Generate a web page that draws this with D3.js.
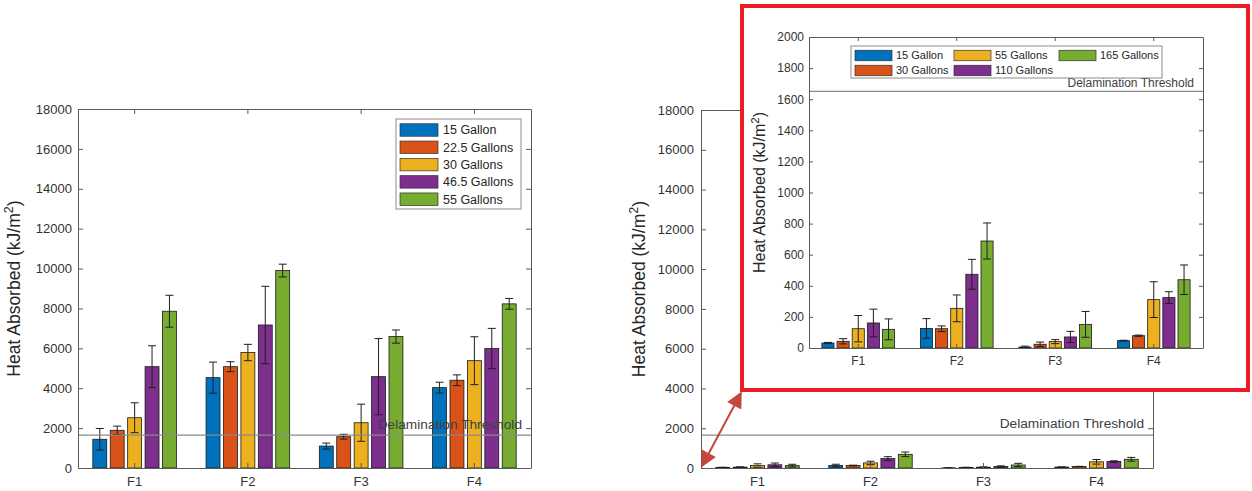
<!DOCTYPE html>
<html>
<head>
<meta charset="utf-8">
<script src="https://cdn.jsdelivr.net/npm/d3@7.9.0/dist/d3.min.js"></script>
<style>
  body { margin: 0; background: #fff; }
  svg { display: block; font-family: "Liberation Sans", Arial, sans-serif; }
</style>
</head>
<body>
<svg id="chart" width="1252" height="491"></svg>
<script>
const categories = ['F1', 'F2', 'F3', 'F4'];
const colors = ['#0072BD', '#D95319', '#EDB120', '#7E2F8E', '#77AC30'];
const threshold = 1650;

// left figure, one row per series, values for F1..F4
const leftSeries = ['15 Gallon', '22.5 Gallons', '30 Gallons', '46.5 Gallons', '55 Gallons'];
const leftMeans = [
  [1440, 4530, 1100, 4030],
  [1890, 5080, 1570, 4400],
  [2520, 5790, 2270, 5380],
  [5080, 7170, 4580, 5990],
  [7860, 9900, 6590, 8230]
];
const leftErrors = [
  [540, 780, 150, 270],
  [210, 250, 120, 270],
  [750, 410, 930, 1200],
  [1050, 1940, 1910, 1010],
  [800, 320, 330, 270]
];

// right figure (also shown zoomed in the inset)
const rightSeries = ['15 Gallon', '30 Gallons', '55 Gallons', '110 Gallons', '165 Gallons'];
const rightMeans = [
  [32, 126, 6, 47],
  [43, 124, 24, 79],
  [124, 255, 41, 311],
  [161, 474, 71, 324],
  [120, 688, 152, 439]
];
const rightErrors = [
  [4, 63, 6, 3],
  [17, 18, 14, 4],
  [85, 86, 13, 115],
  [89, 96, 36, 38],
  [67, 116, 83, 95]
];

const bigTicks = [0, 2000, 4000, 6000, 8000, 10000, 12000, 14000, 16000, 18000];
const insetTicks = [0, 200, 400, 600, 800, 1000, 1200, 1400, 1600, 1800, 2000];

const svg = d3.select('#chart');

function drawPanel(o) {
  const g = svg.append('g');
  const x = d3.scaleBand().domain(categories).range([o.left, o.right]);
  const gw = x.bandwidth() * 0.769;
  const xs = d3.scaleBand().domain(d3.range(5)).range([-gw / 2, gw / 2])
    .paddingInner(0.2).paddingOuter(0.1);
  const y = d3.scaleLinear().domain([0, o.max]).range([o.bottom, o.top]);

  // bars
  o.means.forEach((vals, s) => {
    g.append('g').selectAll('rect').data(vals).join('rect')
      .attr('x', (d, i) => x(categories[i]) + x.bandwidth() / 2 + xs(s))
      .attr('y', d => y(d))
      .attr('width', xs.bandwidth())
      .attr('height', d => y(0) - y(d))
      .attr('fill', colors[s])
      .attr('stroke', '#1a1a1a')
      .attr('stroke-width', 0.8);
  });

  // error bars
  o.means.forEach((vals, s) => {
    vals.forEach((v, i) => {
      const cx = x(categories[i]) + x.bandwidth() / 2 + xs(s) + xs.bandwidth() / 2;
      const e = o.errors[s][i];
      const lo = y(Math.max(0, v - e)), hi = y(v + e);
      const eg = g.append('g').attr('stroke', '#1f1f1f').attr('stroke-width', 1);
      eg.append('line').attr('x1', cx).attr('x2', cx).attr('y1', lo).attr('y2', hi);
      eg.append('line').attr('x1', cx - o.cap).attr('x2', cx + o.cap).attr('y1', lo).attr('y2', lo);
      eg.append('line').attr('x1', cx - o.cap).attr('x2', cx + o.cap).attr('y1', hi).attr('y2', hi);
    });
  });

  // threshold
  g.append('line')
    .attr('x1', o.left).attr('x2', o.right)
    .attr('y1', y(threshold)).attr('y2', y(threshold))
    .attr('stroke', '#8a8a8a').attr('stroke-width', 1.2);
  g.append('text')
    .attr('x', o.right - o.threshInset).attr('y', y(threshold) - o.threshGap)
    .attr('text-anchor', 'end')
    .attr('font-size', o.threshFont)
    .attr('fill', '#404040')
    .text('Delamination Threshold');

  // axes (box on, ticks pointing inward)
  const styleAxis = sel => {
    sel.selectAll('.domain').attr('stroke', '#5a5a5a');
    sel.selectAll('.tick line').attr('stroke', '#5a5a5a');
    sel.selectAll('text').attr('fill', '#333').attr('font-size', o.tickFont)
      .attr('font-family', '"Liberation Sans", Arial, sans-serif');
  };
  g.append('g').attr('transform', `translate(${o.left},0)`)
    .call(d3.axisLeft(y).tickValues(o.ticks).tickFormat(d3.format('d'))
      .tickSizeInner(-o.tick).tickSizeOuter(0).tickPadding(o.ypad))
    .call(styleAxis);
  g.append('g').attr('transform', `translate(${o.right},0)`)
    .call(d3.axisRight(y).tickValues(o.ticks).tickFormat('')
      .tickSizeInner(-o.tick).tickSizeOuter(0))
    .call(styleAxis);
  g.append('g').attr('transform', `translate(0,${o.bottom})`)
    .call(d3.axisBottom(x).tickSizeInner(-o.tick).tickSizeOuter(0).tickPadding(o.xpad))
    .call(styleAxis);
  g.append('g').attr('transform', `translate(0,${o.top})`)
    .call(d3.axisTop(x).tickFormat('').tickSizeInner(-o.tick).tickSizeOuter(0))
    .call(styleAxis);

  // y label
  const lab = g.append('text')
    .attr('transform', `translate(${o.labelX},${(o.top + o.bottom) / 2}) rotate(-90)`)
    .attr('text-anchor', 'middle')
    .attr('font-size', o.labelFont)
    .attr('fill', '#262626');
  lab.append('tspan').text('Heat Absorbed (kJ/m');
  lab.append('tspan').attr('baseline-shift', 'super').attr('font-size', o.labelFont * 0.72).text('2');
  lab.append('tspan').text(')');
  return { x, y };
}

function drawLegend(o) {
  const g = svg.append('g');
  g.append('rect').attr('x', o.x).attr('y', o.y).attr('width', o.w).attr('height', o.h)
    .attr('fill', '#fff').attr('stroke', '#8c8c8c').attr('stroke-width', 1);
  o.names.forEach((name, i) => {
    const c = Math.floor(i / o.rows);
    const r = i % o.rows;
    const px = o.x + o.colX[c];
    const py = o.y + o.firstRow + r * o.rowH;
    g.append('rect').attr('x', px).attr('y', py - o.swH / 2)
      .attr('width', o.swW).attr('height', o.swH)
      .attr('fill', colors[i]).attr('stroke', '#333').attr('stroke-width', 0.7);
    g.append('text').attr('x', px + o.swW + o.gap).attr('y', py)
      .attr('dy', '0.35em').attr('font-size', o.font).attr('fill', '#262626').text(name);
  });
}

// left figure
drawPanel({
  left: 78, right: 531, top: 109, bottom: 468, max: 18000, ticks: bigTicks,
  means: leftMeans, errors: leftErrors, cap: 4,
  tick: 5, ypad: 6, xpad: 9, tickFont: 13, labelX: 20, labelFont: 17.5,
  threshFont: 13.7, threshInset: 9, threshGap: 6
});
drawLegend({
  x: 396, y: 119, w: 125, h: 90, names: leftSeries, rows: 5,
  colX: [4], firstRow: 11, rowH: 17.3, swW: 38, swH: 12.5, gap: 5, font: 12.5
});

// right figure
drawPanel({
  left: 701, right: 1153, top: 110, bottom: 468, max: 18000, ticks: bigTicks,
  means: rightMeans, errors: rightErrors, cap: 4,
  tick: 5, ypad: 7, xpad: 9, tickFont: 13, labelX: 645, labelFont: 17.5,
  threshFont: 13.7, threshInset: 9, threshGap: 7
});

// zoom inset with red frame
svg.append('rect').attr('x', 742).attr('y', 6).attr('width', 506).attr('height', 384)
  .attr('fill', '#fff').attr('stroke', '#ed1c24').attr('stroke-width', 4);
drawPanel({
  left: 809, right: 1203, top: 37, bottom: 348, max: 2000, ticks: insetTicks,
  means: rightMeans, errors: rightErrors, cap: 4,
  tick: 4, ypad: 5, xpad: 8, tickFont: 12, labelX: 765, labelFont: 16,
  threshFont: 12, threshInset: 9, threshGap: 4.5
});
drawLegend({
  x: 851, y: 46, w: 311, h: 32, names: rightSeries, rows: 2,
  colX: [4, 103, 208], firstRow: 9.5, rowH: 15, swW: 37, swH: 10.5, gap: 4, font: 11
});

// double-headed arrow from the main origin to the inset corner
const arrowColor = '#c4463f';
const defs = svg.append('defs');
defs.append('marker').attr('id', 'head').attr('viewBox', '0 0 10 10')
  .attr('refX', 9).attr('refY', 5).attr('markerWidth', 9).attr('markerHeight', 8)
  .attr('markerUnits', 'strokeWidth')
  .attr('orient', 'auto-start-reverse')
  .append('path').attr('d', 'M0,0 L10,5 L0,10 Z').attr('fill', arrowColor);
svg.append('line')
  .attr('x1', 702).attr('y1', 466).attr('x2', 741).attr('y2', 393)
  .attr('stroke', arrowColor).attr('stroke-width', 2)
  .attr('marker-start', 'url(#head)').attr('marker-end', 'url(#head)');
</script>
</body>
</html>
